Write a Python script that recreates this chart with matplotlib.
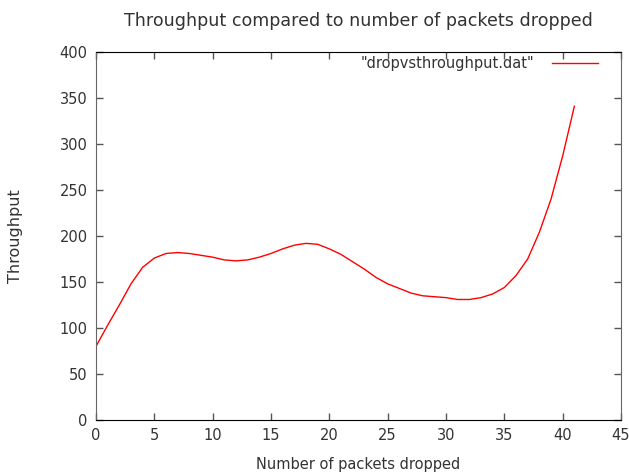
import numpy as np
import matplotlib.pyplot as plt

# packets dropped vs measured throughput (smoothed)
drops = [0, 1, 2, 3, 4, 5, 6, 7, 8, 9, 10, 11, 12, 13, 14, 15, 16, 17, 18, 19, 20,
         21, 22, 23, 24, 25, 26, 27, 28, 29, 30, 31, 32, 33, 34, 35, 36, 37, 38, 39, 40, 41]
throughput = [80, 103, 125, 148, 166, 176, 181, 182, 181, 179, 177, 174, 173, 174, 177, 181,
              186, 190, 192, 191, 186, 180, 172, 164, 155, 148, 143, 138, 135, 134, 133, 131,
              131, 133, 137, 144, 157, 175, 204, 240, 287, 341]

txt = '#333333'
plt.rcParams['font.family'] = 'DejaVu Sans'
plt.rcParams['font.size'] = 10.5

fig = plt.figure(figsize=(6.29, 4.75), dpi=100)
ax = fig.add_axes([0.1526, 0.1158, 0.8347, 0.7747])

ax.plot(drops, throughput, color='#ff0000', linewidth=1.0, label='"dropvsthroughput.dat"')

ax.set_xlim(0, 45)
ax.set_ylim(0, 400)
ax.set_xticks(np.arange(0, 46, 5))
ax.set_yticks(np.arange(0, 401, 50))
ax.tick_params(direction='in', length=5, width=1, colors='#555555', labelcolor=txt,
               top=True, right=True, pad=6)

for side in ['left', 'right']:
    ax.spines[side].set_color('#666666')
for side in ['top', 'bottom']:
    ax.spines[side].set_color('black')

ax.set_title('Throughput compared to number of packets dropped', color=txt, pad=19)
ax.set_xlabel('Number of packets dropped', color=txt, labelpad=10)
ax.set_ylabel('Throughput', color=txt, labelpad=26, fontsize=11.5)

leg = ax.legend(loc='upper right', bbox_to_anchor=(0.968, 1.004), markerfirst=False,
                frameon=False, handlelength=3.2, borderaxespad=0, handletextpad=1.2)
for t in leg.get_texts():
    t.set_color(txt)

fig.savefig('out.png', dpi=100)
